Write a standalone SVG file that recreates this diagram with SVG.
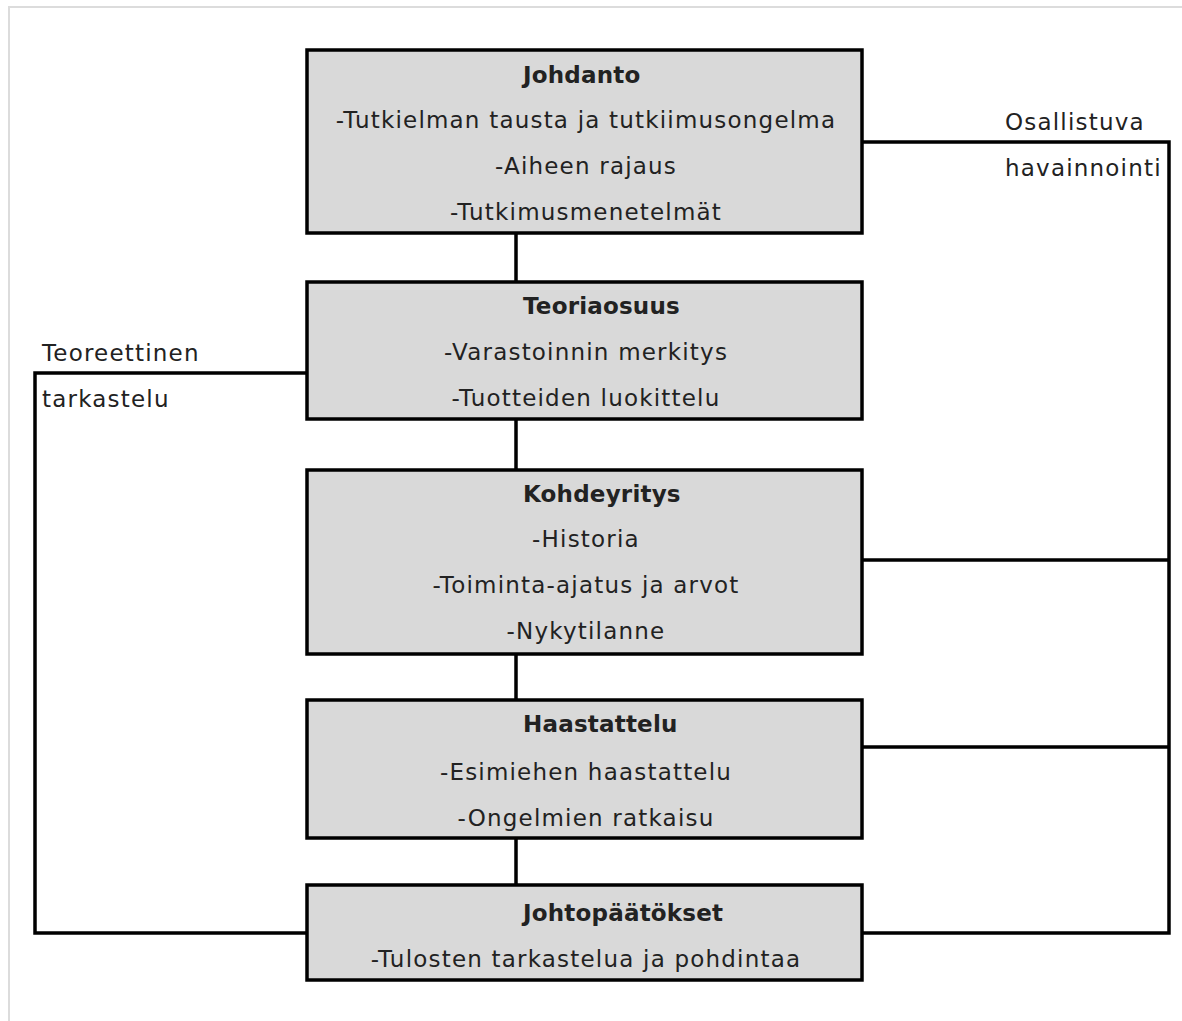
<svg xmlns="http://www.w3.org/2000/svg" width="1182" height="1021" viewBox="0 0 1182 1021">
<style>
.box{fill:#d9d9d9;stroke:#000;stroke-width:3.5}
.ln{fill:none;stroke:#000;stroke-width:3.5}
text{font-family:"DejaVu Sans",sans-serif;font-size:23px;letter-spacing:1.2px;fill:#222}
.c{text-anchor:middle}
.b{font-weight:bold;letter-spacing:0.2px}
</style>
<rect x="0" y="0" width="1182" height="1021" fill="#fff"/>
<path d="M9 1021 V7 H1182" fill="none" stroke="#dcdcdc" stroke-width="2"/>
<g id="connectors">
<path class="ln" d="M516 233 V282 M516 419 V470 M516 654 V700 M516 838 V885"/>
<path class="ln" d="M862 142 H1169 V933 H862 M862 560 H1169 M862 747 H1169"/>
<path class="ln" d="M307 373 H35 V933 H307"/>
</g>
<g id="label-left">
<text x="42" y="361">Teoreettinen</text>
<text x="42" y="407">tarkastelu</text>
</g>
<g id="label-right">
<text x="1005" y="130">Osallistuva</text>
<text x="1005" y="176">havainnointi</text>
</g>
<g id="johdanto">
<rect class="box" x="307" y="50" width="555" height="183"/>
<text class="b" x="523" y="83">Johdanto</text>
<text class="c" x="586" y="128">-Tutkielman tausta ja tutkiimusongelma</text>
<text class="c" x="586" y="174">-Aiheen rajaus</text>
<text class="c" x="586" y="220">-Tutkimusmenetelmät</text>
</g>
<g id="teoriaosuus">
<rect class="box" x="307" y="282" width="555" height="137"/>
<text class="b" x="523" y="314">Teoriaosuus</text>
<text class="c" x="586" y="360">-Varastoinnin merkitys</text>
<text class="c" x="586" y="406">-Tuotteiden luokittelu</text>
</g>
<g id="kohdeyritys">
<rect class="box" x="307" y="470" width="555" height="184"/>
<text class="b" x="523" y="502">Kohdeyritys</text>
<text class="c" x="586" y="547">-Historia</text>
<text class="c" x="586" y="593">-Toiminta-ajatus ja arvot</text>
<text class="c" x="586" y="639">-Nykytilanne</text>
</g>
<g id="haastattelu">
<rect class="box" x="307" y="700" width="555" height="138"/>
<text class="b" x="523" y="732">Haastattelu</text>
<text class="c" x="586" y="780">-Esimiehen haastattelu</text>
<text class="c" x="586" y="826">-Ongelmien ratkaisu</text>
</g>
<g id="johtopaatokset">
<rect class="box" x="307" y="885" width="555" height="95"/>
<text class="b" x="523" y="921">Johtopäätökset</text>
<text class="c" x="586" y="967">-Tulosten tarkastelua ja pohdintaa</text>
</g>
</svg>
